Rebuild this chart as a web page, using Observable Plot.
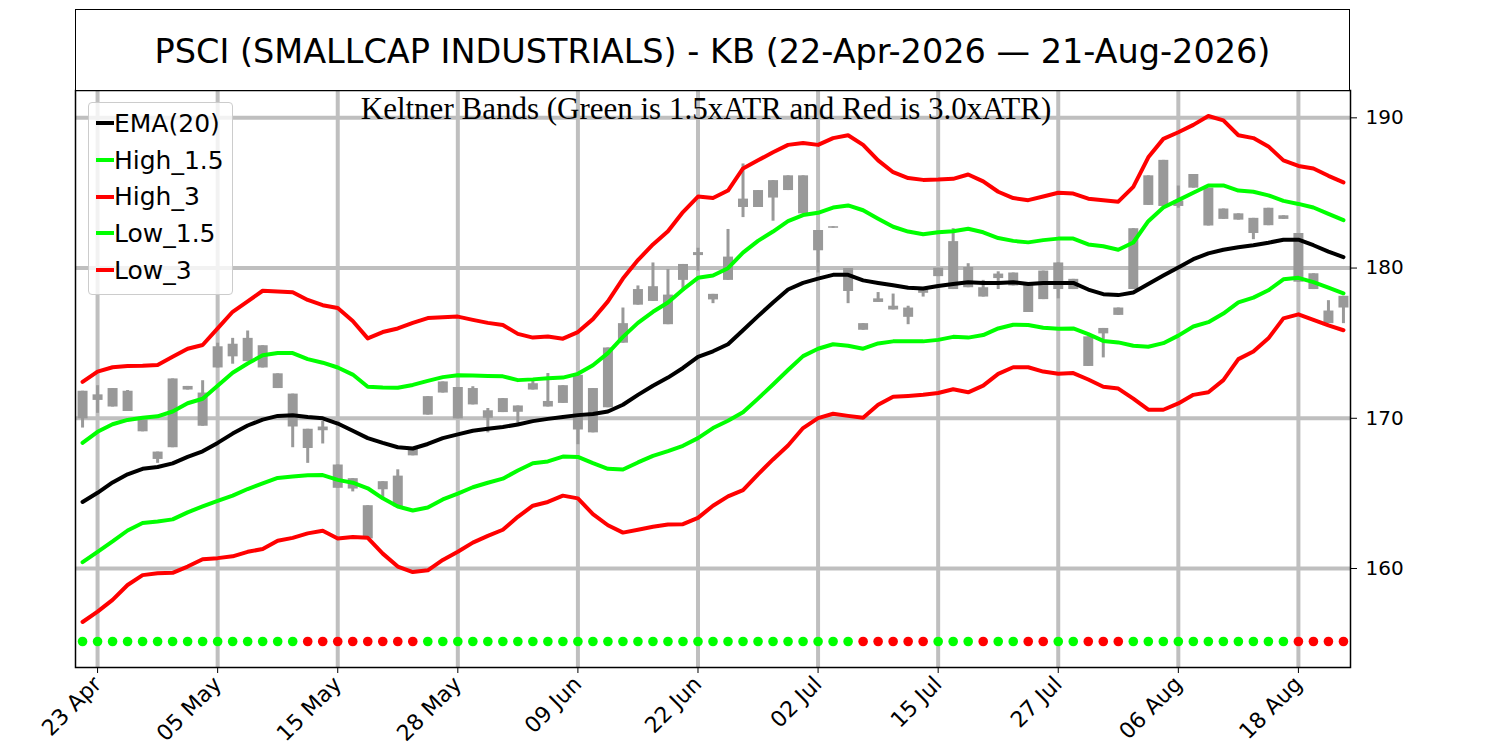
<!DOCTYPE html>
<html>
<head>
<meta charset="utf-8">
<script src="https://cdn.jsdelivr.net/npm/d3@7"></script>
<script src="https://cdn.jsdelivr.net/npm/@observablehq/plot@0.6"></script>
<style>
  html, body { margin: 0; padding: 0; background: #fff; }
  #wrap { position: relative; width: 1500px; height: 750px; overflow: hidden; }
  #chart { position: absolute; left: 0; top: 0; }
  #title {
    position: absolute; left: 75px; top: 9px; width: 1275px; height: 82px;
    box-sizing: border-box; border: 1.5px solid #000; background: #fff;
    display: flex; align-items: center; justify-content: center; padding-top: 2px;
    font-family: "DejaVu Sans", sans-serif; font-size: 33.5px; color: #000;
  }
  #legend {
    position: absolute; left: 88px; top: 102px; width: 145px; height: 193px;
    box-sizing: border-box; border: 1px solid #cccccc; border-radius: 4px;
    background: rgba(255,255,255,0.8); padding-top: 2px;
    font-family: "DejaVu Sans", sans-serif; font-size: 25px; color: #000;
  }
  .row { height: 36.7px; display: flex; align-items: center; white-space: nowrap; }
  .sw { display: inline-block; width: 18px; height: 4px; margin-left: 7px; }
</style>
</head>
<body>
<div id="wrap">
  <div id="chart"></div>
  <div id="title"></div>
  <div id="legend"></div>
</div>
<script>
// ---------- data ----------
const titleText = "PSCI (SMALLCAP INDUSTRIALS) - KB (22-Apr-2026 \u2014 21-Aug-2026)";
const subtitleText = "Keltner Bands (Green is 1.5xATR and Red is 3.0xATR)";

// trading-day index of each labelled tick and its label
const tickIndex = [1, 9, 17, 25, 33, 41, 49, 57, 65, 73, 81];
const tickLabels = ["23 Apr", "05 May", "15 May", "28 May", "09 Jun", "22 Jun", "02 Jul", "15 Jul", "27 Jul", "06 Aug", "18 Aug"];
const yTicks = [160, 170, 180, 190];

// candles, one per trading day (22 Apr 2026 .. 21 Aug 2026)
const open = [169.96,171.19,171.98,170.45,169.89,167.26,168.04,171.88,171.68,173.35,174.09,173.77,174.83,172.96,171.61,169.27,169.17,166.89,165.98,164.18,165.24,164.11,167.50,170.21,171.68,172.05,170.89,170.00,170.38,170.82,171.88,170.75,170.99,169.22,171.98,170.70,175.00,177.53,177.78,178.20,179.18,180.83,178.25,179.18,184.03,184.03,184.66,185.16,186.14,182.50,182.65,179.97,176.30,177.71,177.21,177.34,178.32,179.43,178.57,180.04,178.69,179.30,178.81,179.01,177.90,178.57,179.25,175.42,175.62,176.85,178.57,184.17,187.17,184.10,185.32,185.32,183.93,183.61,183.31,182.82,183.48,182.30,179.62,176.30,177.34];
const close = [171.80,171.56,170.75,171.80,169.10,167.75,172.62,172.12,169.47,174.76,174.93,175.32,173.35,171.98,169.42,167.99,169.42,165.34,165.29,161.97,165.78,166.15,167.99,171.44,172.42,169.96,171.98,170.50,171.31,170.40,172.30,171.12,172.17,172.86,169.03,174.68,176.30,178.57,178.76,176.23,180.24,181.03,177.88,180.73,184.59,185.16,185.82,186.14,183.61,181.15,182.75,178.44,175.86,177.95,177.46,176.72,178.57,179.99,181.76,178.69,178.07,179.60,179.67,177.04,179.80,180.34,178.57,173.45,175.98,177.34,182.62,186.14,184.10,184.47,186.23,182.80,183.24,183.19,182.30,183.98,183.24,179.06,178.57,177.14,178.12];
const high = [171.80,172.17,171.98,171.85,169.89,167.75,172.62,172.12,172.50,175.00,175.32,175.81,174.83,172.96,171.61,169.27,169.79,166.89,165.98,164.18,165.78,166.57,167.99,171.44,172.42,172.05,172.10,170.65,171.31,170.82,172.47,172.98,172.17,172.96,171.98,174.68,177.34,178.81,180.34,179.90,180.24,181.32,178.25,182.57,186.93,185.16,185.82,186.14,186.14,182.50,182.75,179.97,176.30,178.37,178.27,177.46,178.57,179.99,182.62,180.29,179.18,179.75,179.67,179.01,179.80,180.34,179.25,175.42,175.98,177.34,182.62,186.14,187.17,185.46,186.23,185.32,183.93,183.61,183.31,183.98,183.48,182.30,179.62,177.83,178.12];
const low = [169.35,170.33,170.75,170.45,169.10,167.00,168.04,171.88,169.47,173.35,173.60,173.77,173.35,171.98,168.04,167.00,168.29,165.34,165.10,161.97,164.67,164.11,167.50,170.21,171.68,169.96,170.89,169.03,170.38,169.47,171.88,170.75,170.99,168.24,169.03,170.70,175.00,177.53,177.78,176.23,178.44,179.80,177.63,179.18,183.36,184.03,183.12,185.16,183.61,179.67,182.65,177.63,175.86,177.71,177.21,176.23,178.07,179.43,178.57,178.69,178.07,178.57,178.81,177.04,177.90,177.95,178.57,173.45,174.02,176.85,178.57,184.17,184.10,183.98,185.32,182.80,183.24,183.19,181.89,182.82,183.24,179.06,178.57,176.30,176.30];

// Keltner lines
const ema20 = [164.43,165.04,165.73,166.27,166.64,166.76,167.00,167.43,167.80,168.36,168.98,169.52,169.91,170.16,170.20,170.08,170.00,169.65,169.17,168.68,168.36,168.07,167.99,168.29,168.68,168.93,169.17,169.30,169.42,169.59,169.81,169.96,170.08,170.21,170.28,170.45,170.90,171.56,172.17,172.71,173.35,174.09,174.46,174.93,175.86,176.80,177.71,178.57,179.01,179.30,179.55,179.55,179.18,179.01,178.86,178.69,178.64,178.81,178.94,179.06,179.01,179.01,179.06,178.94,179.01,179.01,179.01,178.57,178.26,178.20,178.37,178.94,179.50,180.04,180.59,180.98,181.22,181.39,181.52,181.69,181.89,181.89,181.52,181.10,180.73];
const high15 = [168.36,169.10,169.60,169.89,170.03,170.13,170.45,171.00,171.30,172.17,173.03,173.65,174.19,174.34,174.34,173.94,173.70,173.38,172.91,172.10,172.05,172.03,172.22,172.49,172.74,172.86,172.84,172.81,172.79,172.54,172.59,172.67,172.71,172.96,173.53,174.34,175.42,176.35,177.09,177.71,178.57,179.35,179.50,179.99,181.03,181.81,182.43,183.12,183.53,183.68,184.03,184.17,183.85,183.29,182.75,182.43,182.25,182.38,182.45,182.62,182.38,182.00,181.81,181.71,181.86,181.96,181.96,181.57,181.45,181.22,181.70,183.12,184.03,184.52,185.01,185.50,185.50,185.16,185.08,184.84,184.47,184.27,184.03,183.61,183.19];
const high3 = [172.42,173.11,173.40,173.48,173.50,173.55,174.09,174.63,174.88,175.98,177.09,177.78,178.49,178.44,178.39,177.88,177.53,177.34,176.48,175.32,175.74,175.98,176.35,176.67,176.72,176.77,176.55,176.35,176.21,175.62,175.37,175.44,175.30,175.74,176.60,177.78,179.30,180.53,181.57,182.45,183.73,184.76,184.66,185.16,186.63,187.17,187.71,188.20,188.33,188.20,188.65,188.84,188.20,187.17,186.38,185.99,185.87,185.89,185.94,186.23,185.77,185.08,184.66,184.52,184.76,185.01,184.96,184.62,184.52,184.42,185.40,187.37,188.60,189.04,189.53,190.12,189.83,188.84,188.65,188.10,187.17,186.80,186.63,186.14,185.70];
const low15 = [160.42,161.11,161.80,162.53,163.03,163.13,163.27,163.74,164.13,164.50,164.85,165.29,165.66,166.03,166.12,166.20,166.22,165.90,165.71,165.34,164.67,164.13,163.86,164.06,164.60,164.99,165.41,165.71,165.98,166.52,167.01,167.13,167.45,167.43,167.01,166.64,166.59,167.06,167.50,167.82,168.17,168.68,169.35,169.84,170.40,171.31,172.25,173.21,174.14,174.63,174.93,174.83,174.63,174.98,175.12,175.12,175.12,175.22,175.42,175.37,175.54,175.98,176.23,176.21,176.03,175.96,175.98,175.60,175.15,175.05,174.83,174.76,175.00,175.50,176.11,176.40,176.97,177.71,178.03,178.52,179.25,179.35,179.06,178.69,178.32];
const low3 = [156.44,157.13,157.91,158.90,159.56,159.68,159.71,160.13,160.62,160.69,160.81,161.11,161.30,161.85,162.04,162.34,162.51,162.00,162.09,162.04,160.99,160.13,159.76,159.88,160.57,161.11,161.72,162.17,162.58,163.44,164.18,164.43,164.85,164.67,163.62,162.88,162.39,162.58,162.78,162.93,162.95,163.37,164.18,164.80,165.22,166.27,167.26,168.19,169.35,170.01,170.30,170.16,170.04,170.90,171.44,171.49,171.56,171.68,171.93,171.73,172.17,172.96,173.40,173.40,173.11,172.96,173.01,172.58,172.10,171.98,171.31,170.57,170.57,170.99,171.56,171.73,172.54,173.94,174.44,175.32,176.65,176.92,176.55,176.18,175.86];

// signal row: 1 = red dot, 0 = green dot
const signal = [0,0,0,0,0,0,0,0,0,0,0,0,0,0,0, 1,1,1,1,1,1,1,1, 0,0,0,0,0,0,0,0,0,0,0,0,0,0,0,0,0,0,0,0,0,0,0,0,0,0,0,0,0, 1,1,1,1,1, 0,0,0, 1, 0,0, 1,1, 0,0, 1,1,1, 0,0,0,0,0,0,0,0,0,0,0, 1,1,1,1];
const signalLevel = 155.14;

const series = [
  {name: "EMA(20)", values: ema20, color: "#000000"},
  {name: "High_1.5", values: high15, color: "#00ff00"},
  {name: "High_3", values: high3, color: "#ff0000"},
  {name: "Low_1.5", values: low15, color: "#00ff00"},
  {name: "Low_3", values: low3, color: "#ff0000"}
];

// ---------- build tables ----------
const candles = open.map((o, i) => ({i, open: o, close: close[i], high: high[i], low: low[i]}));
const signals = signal.map((s, i) => ({i, s}));

const marks = [
  Plot.gridX(tickIndex, {stroke: "#bfbfbf", strokeOpacity: 1, strokeWidth: 4}),
  Plot.gridY(yTicks, {stroke: "#bfbfbf", strokeOpacity: 1, strokeWidth: 4}),
  Plot.ruleX(candles, {x: "i", y1: "low", y2: "high", stroke: "#999999", strokeWidth: 3}),
  Plot.ruleX(candles, {x: "i", y1: "open", y2: "close", stroke: "#999999", strokeWidth: 10})
];
for (const s of series) {
  marks.push(Plot.line(s.values, {x: (d, i) => i, y: d => d, stroke: s.color, strokeWidth: 4, strokeLinejoin: "round"}));
}
marks.push(
  Plot.dot(signals, {x: "i", y: () => signalLevel, r: 4.8, fill: d => d.s ? "#ff0000" : "#00ff00", stroke: "none"}),
  Plot.frame({stroke: "#000", strokeWidth: 1.5}),
  Plot.axisY(yTicks, {anchor: "right", tickSize: 6, tickPadding: 9, fontSize: 20, label: null}),
  Plot.axisX(tickIndex, {
    tickFormat: d => tickLabels[tickIndex.indexOf(d)],
    tickRotate: -45, tickSize: 6, tickPadding: 7, fontSize: 22, label: null
  }),
  Plot.text([subtitleText], {frameAnchor: "top", dy: 19, dx: -7, fontSize: 31, lineAnchor: "middle", fontFamily: "Liberation Serif, Times New Roman, serif", fill: "#000"})
);

const chart = Plot.plot({
  width: 1500,
  height: 750,
  marginTop: 90,
  marginBottom: 83,
  marginLeft: 75,
  marginRight: 150,
  x: {type: "linear", domain: [-0.47, 84.47]},
  y: {domain: [153.41, 191.82]},
  style: {fontFamily: "DejaVu Sans, sans-serif", fontSize: "20px", color: "#000", background: "#fff"},
  marks
});
document.getElementById("chart").appendChild(chart);

// title box and legend (HTML overlays)
document.getElementById("title").textContent = titleText;
const leg = document.getElementById("legend");
for (const s of series) {
  const row = document.createElement("div");
  row.className = "row";
  const sw = document.createElement("span");
  sw.className = "sw";
  sw.style.background = s.color;
  const lab = document.createElement("span");
  lab.textContent = s.name;
  row.appendChild(sw);
  row.appendChild(lab);
  leg.appendChild(row);
}
</script>
</body>
</html>
